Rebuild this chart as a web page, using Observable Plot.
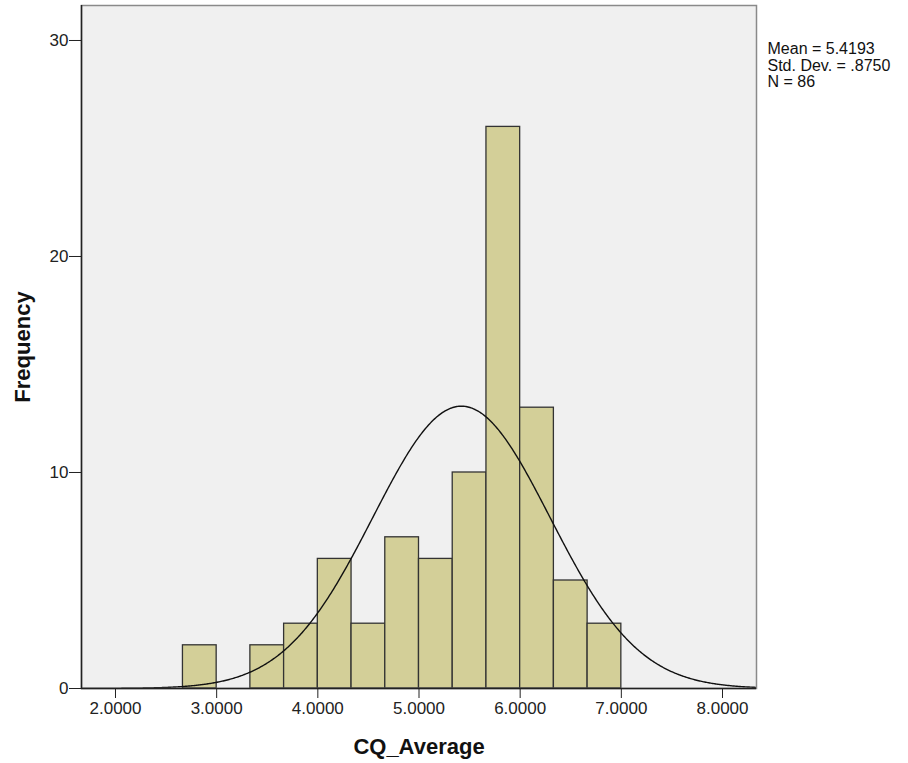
<!DOCTYPE html>
<html>
<head>
<meta charset="utf-8">
<script src="https://cdn.jsdelivr.net/npm/d3@7"></script>
<script src="https://cdn.jsdelivr.net/npm/@observablehq/plot@0.6"></script>
<style>
  html, body { margin: 0; padding: 0; background: #fff; }
  #chart { width: 908px; height: 763px; }
</style>
</head>
<body>
<div id="chart"></div>
<script>
// Histogram bins (CQ_Average), bin width = 1/3
const binLow  = [2.6667, 3.3333, 3.6667, 4.0000, 4.3333, 4.6667, 5.0000, 5.3333, 5.6667, 6.0000, 6.3333, 6.6667];
const binHigh = [3.0000, 3.6667, 4.0000, 4.3333, 4.6667, 5.0000, 5.3333, 5.6667, 6.0000, 6.3333, 6.6667, 7.0000];
const counts  = [2, 2, 3, 6, 3, 7, 6, 10, 26, 13, 5, 3];

// Summary statistics shown on the chart
const statLabels = ["Mean", "Std. Dev.", "N"];
const statTexts  = ["5.4193", ".8750", "86"];
const mean = 5.4193, sd = 0.8750, n = 86, binWidth = 1 / 3;

// Axis ticks
const xTicks = [2, 3, 4, 5, 6, 7, 8];
const yTicks = [0, 10, 20, 30];

const bars = counts.map((c, i) => ({lo: binLow[i], hi: binHigh[i], count: c}));

// Fitted normal curve from the stated mean / SD / N
const xDomain = [1.664, 8.336];
const curve = d3.range(xDomain[0], xDomain[1] + 0.001, 0.01).map(x => ({
  x,
  y: n * binWidth * Math.exp(-0.5 * ((x - mean) / sd) ** 2) / (sd * Math.sqrt(2 * Math.PI))
}));

const statBlock = statLabels.map((l, i) => `${l} = ${statTexts[i]}`).join("\n");

const chart = Plot.plot({
  width: 908,
  height: 763,
  marginLeft: 81,
  marginRight: 152,
  marginTop: 5,
  marginBottom: 75,
  style: {fontFamily: "'Liberation Sans', Arial, sans-serif", fontSize: "17px", color: "#222", background: "#fff"},
  x: {domain: xDomain},
  y: {domain: [0, 31.62]},
  marks: [
    Plot.frame({fill: "#f0f0f0", stroke: null}),
    Plot.rect(bars, {x1: "lo", x2: "hi", y1: 0, y2: "count", fill: "#d3cf98", stroke: "#333", strokeWidth: 1.3}),
    Plot.line(curve, {x: "x", y: "y", stroke: "#111", strokeWidth: 1.4, clip: true}),
    Plot.frame({stroke: "#8a8a8a", strokeWidth: 1.5}),
    Plot.ruleX([xDomain[0]], {stroke: "#222", strokeWidth: 1.5}),
    Plot.ruleY([0], {stroke: "#222", strokeWidth: 1.5}),
    Plot.axisY({ticks: yTicks, tickSize: 12, tickPadding: 1, tickFormat: d => String(d), label: null, fontSize: 17, fill: "#222", stroke: "#222"}),
    Plot.axisX({ticks: xTicks, tickSize: 10, tickPadding: 3, tickFormat: d3.format(".4f"), label: null, fontSize: 17, fill: "#222", stroke: "#222"}),
    Plot.text(["Frequency"], {frameAnchor: "left", dx: -59, rotate: -90, textAnchor: "middle", lineAnchor: "middle", fontSize: 22, fontWeight: "bold", fill: "#111"}),
    Plot.text(["CQ_Average"], {frameAnchor: "bottom", dy: 58, textAnchor: "middle", lineAnchor: "middle", fontSize: 22, fontWeight: "bold", fill: "#111"}),
    Plot.text([statBlock], {frameAnchor: "top-right", dx: 11, dy: 36, textAnchor: "start", lineAnchor: "top", lineHeight: 1.06, fontSize: 16, fill: "#111"})
  ]
});

document.getElementById("chart").appendChild(chart);
</script>
</body>
</html>
